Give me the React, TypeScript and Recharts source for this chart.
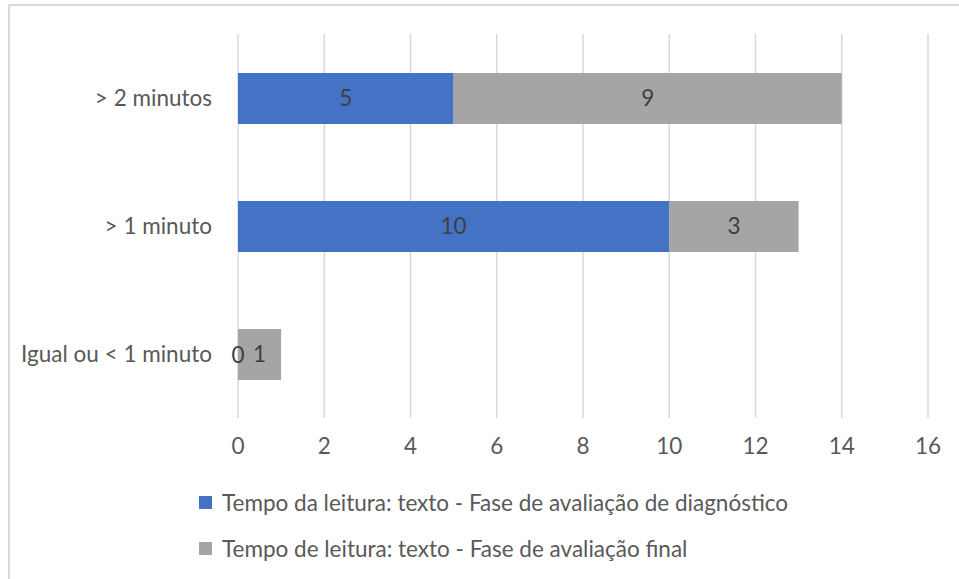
import { Bar, BarChart, CartesianGrid, LabelList, XAxis, YAxis } from "recharts";

const categories = ["> 2 minutos", "> 1 minuto", "Igual ou < 1 minuto"];
const diagnostico = [5, 10, 0];
const final = [9, 3, 1];
const xTicks = [0, 2, 4, 6, 8, 10, 12, 14, 16];
const seriesNames = [
  "Tempo da leitura: texto - Fase de avaliação de diagnóstico",
  "Tempo de leitura: texto - Fase de avaliação final",
];
const seriesColors = ["#4472C4", "#A5A5A5"];

const FONT = "Lato, 'Open Sans', sans-serif";
const FONT_SIZE = 22.5;
const LABEL_COLOR = "#404040";

const data = categories.map((name, i) => ({
  name,
  diagnostico: diagnostico[i],
  final: final[i],
}));

// a zero-width blue segment has its label hidden under the grey one,
// so draw it again on top, at the grey segment's left edge
const ZeroLabel = (props: any) => {
  const { x, y, height, value } = props;
  if (value !== 0) return null;
  return (
    <text
      x={x}
      y={y + height / 2}
      textAnchor="middle"
      dominantBaseline="central"
      fill={LABEL_COLOR}
      fontSize={FONT_SIZE}
      fontFamily={FONT}
    >
      {value}
    </text>
  );
};

export default function App() {
  return (
    <div
      style={{
        position: "absolute",
        left: 0,
        top: 0,
        width: 959,
        height: 579,
        overflow: "hidden",
        background: "#fff",
        fontFamily: FONT,
      }}
    >
      {/* chart frame, cropped on the right and bottom */}
      <div
        style={{
          position: "absolute",
          left: 8,
          top: 4,
          width: 980,
          height: 600,
          border: "2px solid #d9d9d9",
          boxSizing: "border-box",
        }}
      />
      <div style={{ position: "absolute", left: 0, top: 0 }}>
        <BarChart
          width={959}
          height={579}
          data={data}
          layout="vertical"
          margin={{ top: 34, right: 31, bottom: 121, left: 0 }}
          barSize={51}
        >
          <CartesianGrid horizontal={false} stroke="#d9d9d9" strokeWidth={1.5} />
          <XAxis
            type="number"
            domain={[0, 16]}
            ticks={xTicks}
            axisLine={false}
            tickLine={false}
            tickSize={0}
            tickMargin={20}
            height={40}
            tick={{ fill: "#595959", fontSize: FONT_SIZE, fontFamily: FONT }}
          />
          <YAxis
            type="category"
            dataKey="name"
            width={238}
            axisLine={false}
            tickLine={false}
            tickSize={0}
            tickMargin={26}
            tick={{ fill: "#595959", fontSize: FONT_SIZE, fontFamily: FONT }}
          />
          <Bar dataKey="diagnostico" stackId="a" fill={seriesColors[0]} isAnimationActive={false}>
            <LabelList
              dataKey="diagnostico"
              position="center"
              fill={LABEL_COLOR}
              fontSize={FONT_SIZE}
              fontFamily={FONT}
            />
          </Bar>
          <Bar dataKey="final" stackId="a" fill={seriesColors[1]} isAnimationActive={false}>
            <LabelList
              dataKey="final"
              position="center"
              fill={LABEL_COLOR}
              fontSize={FONT_SIZE}
              fontFamily={FONT}
            />
            <LabelList dataKey="diagnostico" content={ZeroLabel} />
          </Bar>
        </BarChart>
      </div>
      {/* legend */}
      {seriesNames.map((name, i) => (
        <div
          key={name}
          style={{
            position: "absolute",
            left: 199,
            top: 502 + i * 46 - 14,
            height: 28,
            display: "flex",
            alignItems: "center",
            color: "#595959",
            fontSize: FONT_SIZE,
            whiteSpace: "nowrap",
          }}
        >
          <span
            style={{
              display: "inline-block",
              width: 13,
              height: 13,
              background: seriesColors[i],
              marginRight: 10,
            }}
          />
          {name}
        </div>
      ))}
    </div>
  );
}
